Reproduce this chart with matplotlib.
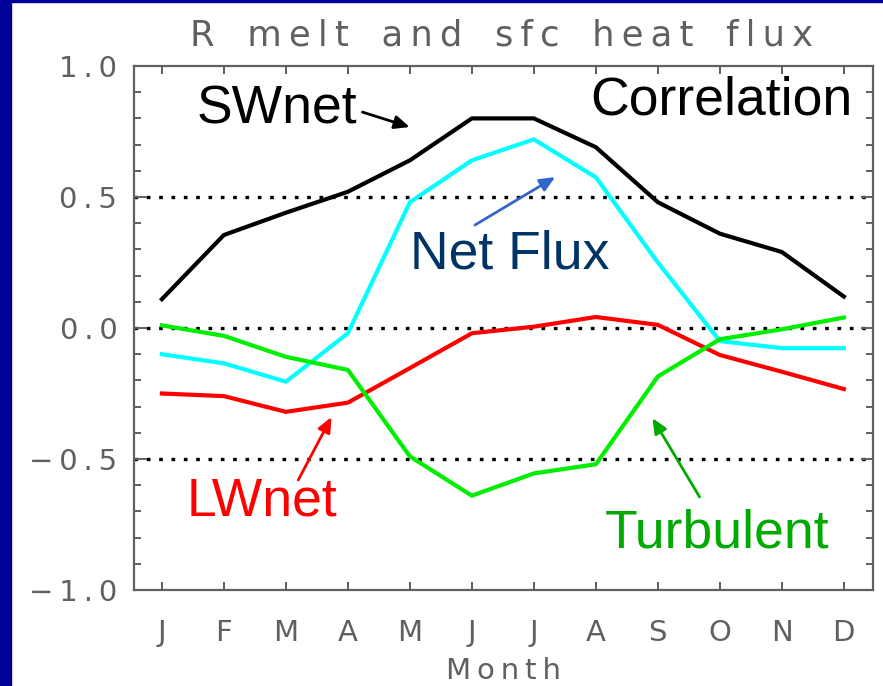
import numpy as np
import matplotlib.pyplot as plt
from matplotlib.patches import Rectangle

# monthly correlation of melt with surface heat flux terms
months = ["J", "F", "M", "A", "M", "J", "J", "A", "S", "O", "N", "D"]
swnet = [0.11, 0.355, 0.44, 0.52, 0.64, 0.80, 0.80, 0.69, 0.48, 0.36, 0.29, 0.12]
netflux = [-0.10, -0.135, -0.205, -0.02, 0.48, 0.64, 0.72, 0.575, 0.25, -0.05, -0.077, -0.077]
lwnet = [-0.25, -0.26, -0.32, -0.285, -0.153, -0.02, 0.005, 0.042, 0.012, -0.103, -0.167, -0.233]
turbulent = [0.01, -0.03, -0.11, -0.16, -0.49, -0.64, -0.555, -0.52, -0.185, -0.043, -0.005, 0.04]
yticks = [-1.0, -0.5, 0.0, 0.5, 1.0]

x = np.arange(1, 13)
gray = "#606060"


def spaced(s):
    # open up letter spacing a little, like the plotting-package stroke font
    return "\u2009".join(s)


fig = plt.figure(figsize=(8.83, 6.86), dpi=100)
fig.patch.set_facecolor("white")
# dark blue slide edge
fig.patches.append(Rectangle((0, 0), 11 / 883, 1, transform=fig.transFigure,
                             color="#000099", zorder=0))
fig.patches.append(Rectangle((0, 1 - 2 / 686), 1, 2 / 686, transform=fig.transFigure,
                             color="#000099", zorder=0))

ax = fig.add_axes([134 / 883, 96 / 686, 739 / 883, 524 / 686])

for yv in [0.5, 0.0, -0.5]:
    ax.axhline(yv, color="black", lw=2.4, ls=(0, (1.1, 2.6)), zorder=1)

ax.plot(x, swnet, color="black", lw=3, zorder=3)
ax.plot(x, netflux, color="#00FFFF", lw=3, zorder=3)
ax.plot(x, lwnet, color="#FF0000", lw=3, zorder=3)
ax.plot(x, turbulent, color="#00EE00", lw=3, zorder=3)

ax.set_xlim(0.55, 12.47)
ax.set_ylim(-1.0, 1.0)
ax.set_xticks(x)
ax.set_xticklabels(months)
ax.set_yticks(yticks)
ax.set_yticklabels([spaced(f"{v:.1f}".replace("-", "\u2212")) for v in yticks])
ax.set_yticks(np.arange(-1.0, 1.01, 0.1), minor=True)

for s in ax.spines.values():
    s.set_color(gray)
    s.set_linewidth(1.6)
ax.tick_params(axis="both", which="both", direction="in", top=True, right=True,
               color=gray, labelcolor=gray, width=1.4, labelsize=21)
ax.tick_params(axis="x", which="major", length=6, pad=21)
ax.tick_params(axis="y", which="major", length=9, pad=12)
ax.tick_params(axis="y", which="minor", length=5)
ax.tick_params(axis="x", which="minor", bottom=False, top=False)
ax.set_xlabel(spaced("Month"), color=gray, fontsize=21, labelpad=7)

fig.text(502 / 883, 1 - 36 / 686, spaced("R melt and sfc heat flux").replace(" ", " \u2009"),
         color=gray, fontsize=25.5, ha="center", va="center")

font = dict(family="Liberation Sans", fontsize=38.5)
ax.text(1.566, 0.782, "SWnet", color="black", **font)
ax.text(7.91, 0.813, "Correlation", color="black", **font)
ax.text(5.0, 0.229, "Net Flux", color="#003366", **font)
ax.text(1.40, -0.714, "LWnet", color="#FF0000", **font)
ax.text(8.15, -0.836, "Turbulent", color="#00AA00", **font)


def pointer(start, end, color):
    ax.annotate("", xy=end, xytext=start,
                arrowprops=dict(arrowstyle="-|>,head_length=0.9,head_width=0.4",
                                color=color, lw=2, shrinkA=0, shrinkB=0),
                zorder=4)


pointer((4.236, 0.824), (4.997, 0.767), "black")
pointer((6.049, 0.393), (7.343, 0.576), "#3366CC")
pointer((3.20, -0.580), (3.735, -0.340), "#FF0000")
pointer((9.673, -0.645), (8.913, -0.344), "#00AA00")

fig.savefig("out.png", dpi=100)
